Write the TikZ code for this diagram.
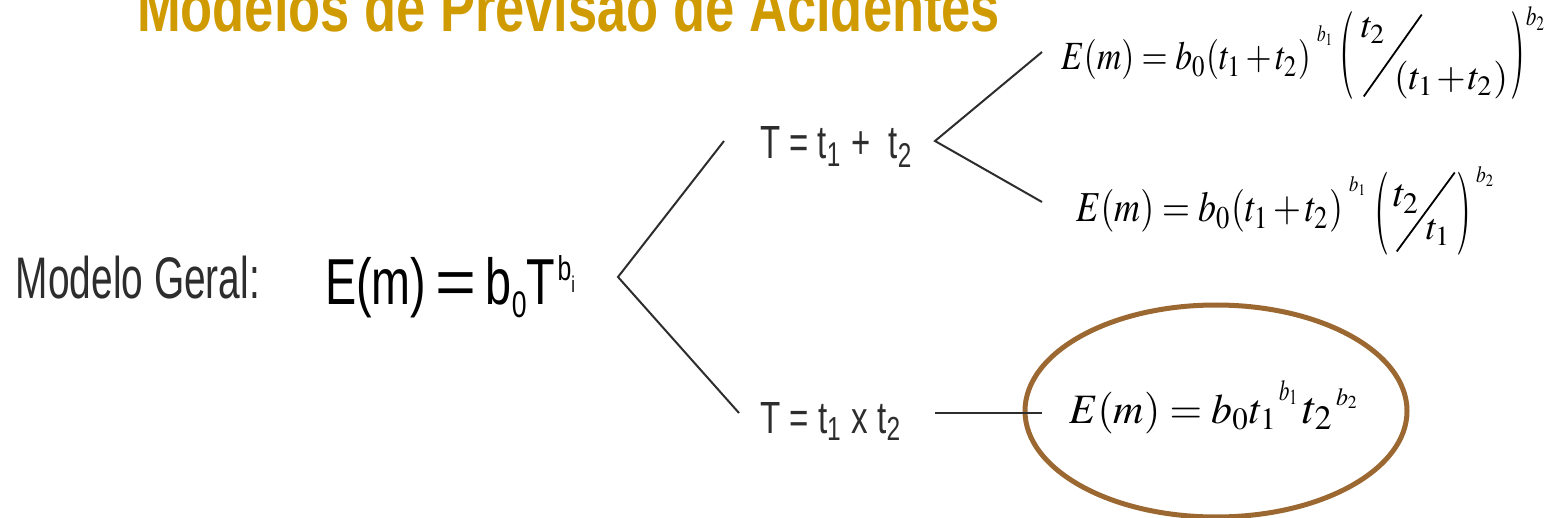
\documentclass[tikz,border=0pt]{standalone}
\usepackage{mathptmx}
\usepackage{fontspec}
\usepackage{graphicx}
\usetikzlibrary{shapes.geometric}
\newfontfamily\arialn{Liberation Sans}
\definecolor{titlegold}{RGB}{208,155,0}
\definecolor{ovalbrown}{RGB}{156,104,50}
\definecolor{inkgray}{RGB}{45,45,45}
\newdimen\pxu \pxu=0.5pt
\newsavebox\pcbox
% place content with its baseline raised by #2 px at #1 px from the node start
\newcommand{\putat}[3]{\makebox[0pt][l]{\kern#1\pxu\raisebox{#2\pxu}{#3}}}
% place content with its bottom at #2 px
\newcommand{\putbottom}[3]{\sbox\pcbox{#3}\makebox[0pt][l]{\kern#1\pxu\raisebox{\dimexpr#2\pxu+\dp\pcbox\relax}{\usebox\pcbox}}}
\newcommand{\slashbar}[2]{\rotatebox{#1}{\rule{#2\pxu}{1.8\pxu}}}
\newcommand{\bigparen}[3]{\resizebox*{#1\pxu}{#2\pxu}{$#3$}}
\newcommand{\wfit}[2]{\resizebox{#1\pxu}{!}{$\medmuskip=1mu #2$}}
\newcommand{\whfit}[3]{\resizebox{#1\pxu}{#2\pxu}{$\medmuskip=2mu #3$}}
\begin{document}
\begin{tikzpicture}[x=0.5pt,y=-0.5pt,
  every node/.style={inner sep=0pt, outer sep=0pt, anchor=base west},
  branch/.style={draw=inkgray, line width=1pt},
  sanslabel/.style={text=inkgray},
  oval/.style={ellipse, draw=ovalbrown, line width=2.5pt, anchor=center}]
\useasboundingbox (0,0) rectangle (1547,518);
% title
\node[text=titlegold] (title) at (137,32) {\resizebox{431.5pt}{25pt}{\arialn\bfseries Modelos de Previsão de Acidentes}};
% left texts
\node[sanslabel] (geral) at (16,299) {\resizebox{122pt}{21.25pt}{\arialn Modelo Geral:}};
\node[text=black] (emodel) at (325,305) {\resizebox{125pt}{24.5pt}{\arialn E(m)\kern0.2em\scalebox{1.5}[1]{=}\kern0.2em b\raisebox{-0.2em}{\fontsize{5.7pt}{6pt}\selectfont 0}T\kern0.05em\raisebox{0.37em}{\fontsize{5.3pt}{6pt}\selectfont b}\raisebox{0.2em}{\fontsize{3.5pt}{4pt}\selectfont i}}};
% middle texts
\node[sanslabel] (tsum) at (760,159) {\resizebox{76.5pt}{16pt}{\arialn T = t\textsubscript{1} +\ \ t\textsubscript{2}}};
\node[sanslabel] (tprod) at (760,433) {\resizebox{71pt}{15.5pt}{\arialn T = t\textsubscript{1} x t\textsubscript{2}}};
% right formulas
\node (f1) at (1060,70) {%
\putat{0}{0}{\whfit{250}{30}{E(m)=b_0(t_1+t_2)}}%
\putat{256}{28}{\whfit{16}{16}{b_1}}%
\putbottom{278}{-30}{\bigparen{15}{88}{(}}%
\putat{300}{32}{\wfit{25}{t_2}}%
\putbottom{302}{-27}{\slashbar{54.7}{100.4}}%
\putat{333}{-20}{\wfit{114}{(t_1+t_2)}}%
\putbottom{449}{-30}{\bigparen{15}{88}{)}}%
\putat{465}{44}{\whfit{19}{19}{b_2}}%
};
\node (f2) at (1075,222) {%
\putat{0}{0}{\whfit{267}{32}{E(m)=b_0(t_1+t_2)}}%
\putat{273}{30}{\whfit{17}{15}{b_1}}%
\putbottom{298}{-33}{\bigparen{15}{83}{(}}%
\putat{317}{15}{\wfit{27}{t_2}}%
\putbottom{320}{-30}{\slashbar{53.7}{98}}%
\putat{350}{-18}{\wfit{25}{t_1}}%
\putbottom{380}{-33}{\bigparen{15}{83}{)}}%
\putat{400}{39}{\whfit{18}{16}{b_2}}%
};
\node (f3) at (1068,423) {%
\putat{0}{0}{\wfit{209}{E(m)=b_0t_1}}%
\putat{210}{23}{\whfit{19}{20}{b_1}}%
\putat{234}{0}{\wfit{31}{t_2}}%
\putat{267}{18}{\whfit{22}{17}{b_2}}%
};
\node[oval, minimum width=191pt, minimum height=106pt] (ring) at (1216,411) {};
% branch points
\coordinate (apexL) at (618,277);
\coordinate (endLt) at (724,141);
\coordinate (endLb) at (739,413);
\coordinate (apexS) at (935,141);
\coordinate (endSt) at (1042,52);
\coordinate (endSb) at (1042,202);
\coordinate (startP) at (935,413);
\coordinate (endP) at (1042,413);
\draw[branch] (endLt) -- (apexL) -- (endLb);
\draw[branch] (endSt) -- (apexS) -- (endSb);
\draw[branch] (startP) -- (endP);
\end{tikzpicture}
\end{document}
